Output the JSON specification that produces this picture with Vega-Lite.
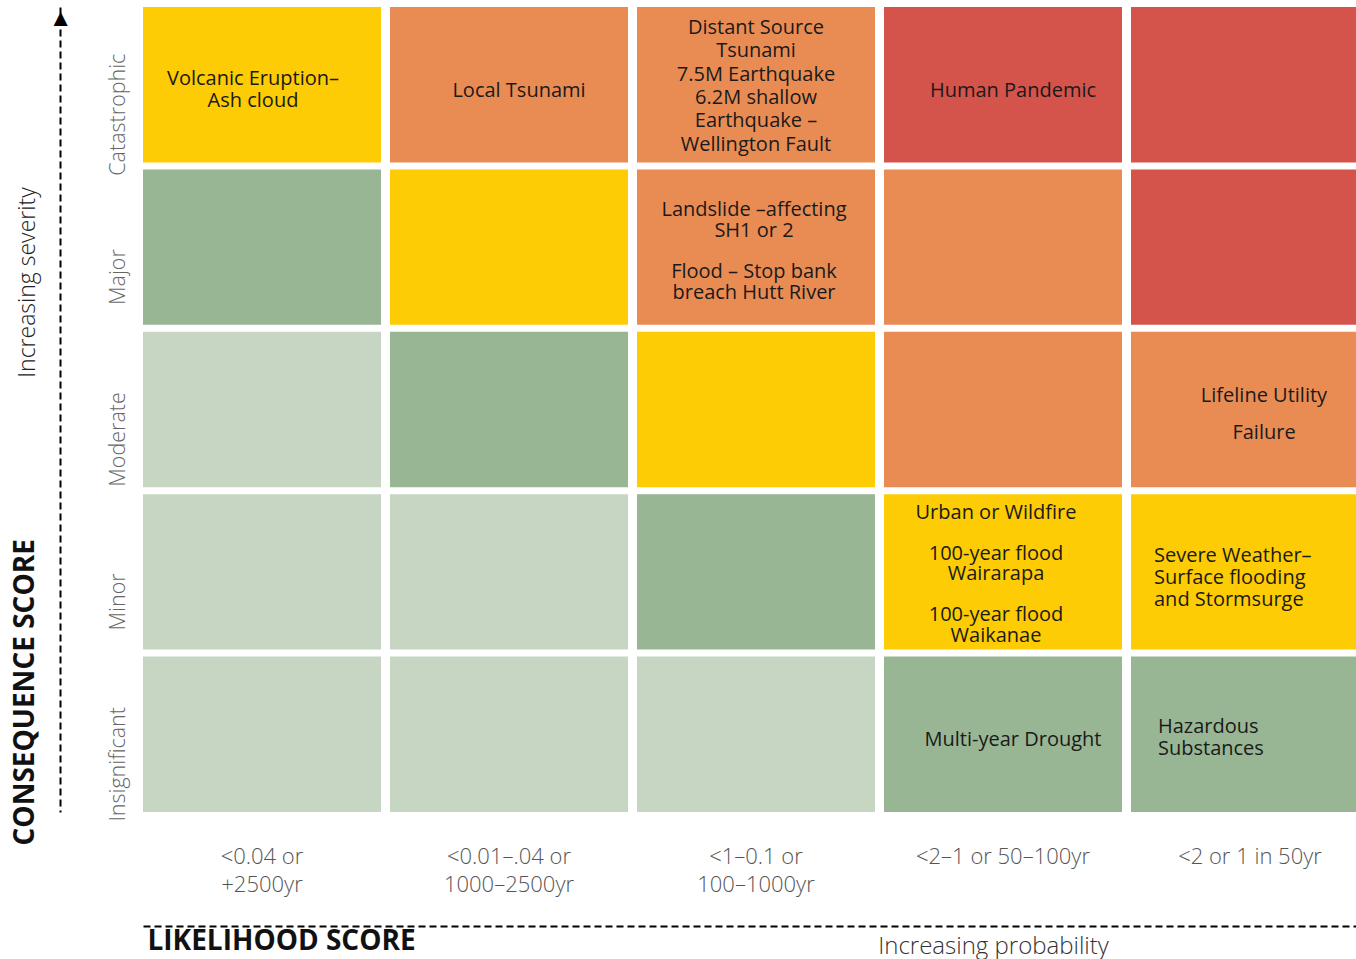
{
  "$schema": "https://vega.github.io/schema/vega-lite/v6.json",
  "width": 1213,
  "height": 805,
  "autosize": "none",
  "padding": {"left": 143, "top": 7, "right": 0, "bottom": 147},
  "background": "white",
  "config": {"view": {"stroke": null}, "font": "Open Sans", "text": {"lineBreak": "\n", "font": "Open Sans", "fontSize": 20, "color": "#1a1a1a", "baseline": "middle"}},
  "data": {"values": [
    {"likelihood": "<0.04 or\n+2500yr", "consequence": "Catastrophic", "level": "Medium", "label": "Volcanic Eruption–\nAsh cloud", "group": "volc"},
    {"likelihood": "<0.01–.04 or\n1000–2500yr", "consequence": "Catastrophic", "level": "High", "label": "Local Tsunami", "group": "s1"},
    {"likelihood": "<1–0.1 or\n100–1000yr", "consequence": "Catastrophic", "level": "High", "label": "Distant Source\nTsunami\n7.5M Earthquake\n6.2M shallow\nEarthquake –\nWellington Fault", "group": "dist"},
    {"likelihood": "<2–1 or  50–100yr", "consequence": "Catastrophic", "level": "Extreme", "label": "Human Pandemic", "group": "s1"},
    {"likelihood": "<2 or 1 in 50yr", "consequence": "Catastrophic", "level": "Extreme", "label": "", "group": ""},
    {"likelihood": "<0.04 or\n+2500yr", "consequence": "Major", "level": "Low", "label": "", "group": ""},
    {"likelihood": "<0.01–.04 or\n1000–2500yr", "consequence": "Major", "level": "Medium", "label": "", "group": ""},
    {"likelihood": "<1–0.1 or\n100–1000yr", "consequence": "Major", "level": "High", "label": "Landslide –affecting\nSH1 or 2\n\u200b\nFlood – Stop bank\nbreach Hutt River", "group": "land"},
    {"likelihood": "<2–1 or  50–100yr", "consequence": "Major", "level": "High", "label": "", "group": ""},
    {"likelihood": "<2 or 1 in 50yr", "consequence": "Major", "level": "Extreme", "label": "", "group": ""},
    {"likelihood": "<0.04 or\n+2500yr", "consequence": "Moderate", "level": "Very low", "label": "", "group": ""},
    {"likelihood": "<0.01–.04 or\n1000–2500yr", "consequence": "Moderate", "level": "Low", "label": "", "group": ""},
    {"likelihood": "<1–0.1 or\n100–1000yr", "consequence": "Moderate", "level": "Medium", "label": "", "group": ""},
    {"likelihood": "<2–1 or  50–100yr", "consequence": "Moderate", "level": "High", "label": "", "group": ""},
    {"likelihood": "<2 or 1 in 50yr", "consequence": "Moderate", "level": "High", "label": "Lifeline Utility\n\u200b\nFailure", "group": "life"},
    {"likelihood": "<0.04 or\n+2500yr", "consequence": "Minor", "level": "Very low", "label": "", "group": ""},
    {"likelihood": "<0.01–.04 or\n1000–2500yr", "consequence": "Minor", "level": "Very low", "label": "", "group": ""},
    {"likelihood": "<1–0.1 or\n100–1000yr", "consequence": "Minor", "level": "Low", "label": "", "group": ""},
    {"likelihood": "<2–1 or  50–100yr", "consequence": "Minor", "level": "Medium", "label": "Urban or Wildfire\n\u200b\n100-year flood\nWairarapa\n\u200b\n100-year flood\nWaikanae", "group": "urban"},
    {"likelihood": "<2 or 1 in 50yr", "consequence": "Minor", "level": "Medium", "label": "Severe Weather–\nSurface flooding\nand Stormsurge", "group": "sev"},
    {"likelihood": "<0.04 or\n+2500yr", "consequence": "Insignificant", "level": "Very low", "label": "", "group": ""},
    {"likelihood": "<0.01–.04 or\n1000–2500yr", "consequence": "Insignificant", "level": "Very low", "label": "", "group": ""},
    {"likelihood": "<1–0.1 or\n100–1000yr", "consequence": "Insignificant", "level": "Very low", "label": "", "group": ""},
    {"likelihood": "<2–1 or  50–100yr", "consequence": "Insignificant", "level": "Low", "label": "Multi-year Drought", "group": "s1"},
    {"likelihood": "<2 or 1 in 50yr", "consequence": "Insignificant", "level": "Low", "label": "Hazardous\nSubstances", "group": "haz"}
  ]},
  "resolve": {"axis": {"x": "independent", "y": "independent"}},
  "layer": [
    {
      "mark": {"type": "rect"},
      "encoding": {
        "x": {"field": "likelihood", "type": "ordinal",
          "scale": {"domain": ["<0.04 or\n+2500yr", "<0.01–.04 or\n1000–2500yr", "<1–0.1 or\n100–1000yr", "<2–1 or  50–100yr", "<2 or 1 in 50yr"], "range": [0, 1226], "paddingInner": 0.0364, "paddingOuter": 0},
          "axis": {"orient": "bottom", "title": null, "domain": false, "ticks": false, "labelAngle": 0, "labelPadding": 34, "labelFontSize": 22, "labelFontWeight": 300, "labelColor": "#555555", "labelLineHeight": 28, "labelBaseline": "top", "labelExpr": "split(datum.label, '\\n')"}},
        "y": {"field": "consequence", "type": "ordinal",
          "scale": {"domain": ["Catastrophic", "Major", "Moderate", "Minor", "Insignificant"], "paddingInner": 0.043, "paddingOuter": 0},
          "axis": {"orient": "left", "title": null, "domain": false, "ticks": false, "labelAngle": 270, "labelAlign": "center", "labelBaseline": "bottom", "labelPadding": 14, "labelOffset": 30, "labelFontSize": 21.5, "labelFontWeight": 300, "labelColor": "#666666"}},
        "color": {"field": "level", "type": "nominal", "legend": null,
          "scale": {"domain": ["Very low", "Low", "Medium", "High", "Extreme"], "range": ["#C6D6C3", "#98B594", "#FDCC04", "#E98C54", "#D4544B"]}}
      }
    },
    {
      "transform": [{"filter": "datum.group == 's1'"}],
      "mark": {"type": "text", "align": "center", "dx": 10, "dy": 6},
      "encoding": {
        "x": {"field": "likelihood", "type": "ordinal",
          "scale": {"domain": ["<0.04 or\n+2500yr", "<0.01–.04 or\n1000–2500yr", "<1–0.1 or\n100–1000yr", "<2–1 or  50–100yr", "<2 or 1 in 50yr"], "range": [0, 1226], "paddingInner": 0.0364, "paddingOuter": 0},
          "axis": {"orient": "bottom", "offset": 114, "labels": false, "ticks": false, "domain": true, "domainColor": "#000000", "domainWidth": 2, "domainDash": [7, 4], "title": "LIKELIHOOD SCORE", "titleFontSize": 28, "titleFontWeight": "bold", "titleColor": "#111111", "titleX": 4, "titleY": 15, "titleAlign": "left", "titleBaseline": "middle", "titleAnchor": null}},
        "y": {"field": "consequence", "type": "ordinal",
          "scale": {"domain": ["Catastrophic", "Major", "Moderate", "Minor", "Insignificant"], "paddingInner": 0.043, "paddingOuter": 0},
          "axis": {"orient": "left", "offset": 83, "labels": false, "ticks": false, "domain": true, "domainColor": "#000000", "domainWidth": 2, "domainDash": [7, 4], "title": "CONSEQUENCE SCORE", "titleFontSize": 28, "titleFontWeight": "bold", "titleColor": "#111111", "titleAngle": 270, "titleX": -35, "titleY": 838, "titleAlign": "left", "titleBaseline": "middle", "titleAnchor": null}},
        "text": {"field": "label"}
      }
    },
    {
      "transform": [{"filter": "datum.group == 'volc'"}],
      "mark": {"type": "text", "align": "center", "dx": -9, "dy": -6, "lineHeight": 22},
      "encoding": {
        "x": {"field": "likelihood", "type": "ordinal",
          "scale": {"domain": ["<0.04 or\n+2500yr", "<0.01–.04 or\n1000–2500yr", "<1–0.1 or\n100–1000yr", "<2–1 or  50–100yr", "<2 or 1 in 50yr"], "range": [0, 1226], "paddingInner": 0.0364, "paddingOuter": 0},
          "axis": {"orient": "bottom", "labels": false, "ticks": false, "domain": false, "title": "Increasing probability", "titleFontSize": 24, "titleFontWeight": 300, "titleColor": "#333333", "titleX": 850, "titleY": 134, "titleAlign": "center", "titleBaseline": "middle", "titleAnchor": null}},
        "y": {"field": "consequence", "type": "ordinal",
          "scale": {"domain": ["Catastrophic", "Major", "Moderate", "Minor", "Insignificant"], "paddingInner": 0.043, "paddingOuter": 0},
          "axis": {"orient": "left", "labels": false, "ticks": false, "domain": false, "title": "Increasing severity", "titleFontSize": 23, "titleFontWeight": 300, "titleColor": "#222222", "titleAngle": 270, "titleX": -116, "titleY": 275, "titleAlign": "center", "titleBaseline": "middle", "titleAnchor": null}},
        "text": {"field": "label"}
      }
    },
    {
      "transform": [{"filter": "datum.group == 'haz'"}],
      "mark": {"type": "text", "align": "left", "dx": -92, "dy": -7, "lineHeight": 22},
      "encoding": {
        "x": {"field": "likelihood", "type": "ordinal",
          "scale": {"domain": ["<0.04 or\n+2500yr", "<0.01–.04 or\n1000–2500yr", "<1–0.1 or\n100–1000yr", "<2–1 or  50–100yr", "<2 or 1 in 50yr"], "range": [0, 1226], "paddingInner": 0.0364, "paddingOuter": 0},
          "axis": null},
        "y": {"field": "consequence", "type": "ordinal",
          "scale": {"domain": ["Catastrophic", "Major", "Moderate", "Minor", "Insignificant"], "paddingInner": 0.043, "paddingOuter": 0},
          "axis": {"orient": "left", "labels": false, "ticks": false, "domain": false, "title": "▲", "titleFontSize": 24, "titleColor": "#000000", "titleAngle": 0, "titleX": -83, "titleY": 11, "titleAlign": "center", "titleBaseline": "middle", "titleAnchor": null}},
        "text": {"field": "label"}
      }
    },
    {
      "transform": [{"filter": "datum.group == 'sev'"}],
      "mark": {"type": "text", "align": "left", "dx": -96, "dy": -16, "lineHeight": 22},
      "encoding": {
        "x": {"field": "likelihood", "type": "ordinal",
          "scale": {"domain": ["<0.04 or\n+2500yr", "<0.01–.04 or\n1000–2500yr", "<1–0.1 or\n100–1000yr", "<2–1 or  50–100yr", "<2 or 1 in 50yr"], "range": [0, 1226], "paddingInner": 0.0364, "paddingOuter": 0},
          "axis": null},
        "y": {"field": "consequence", "type": "ordinal",
          "scale": {"domain": ["Catastrophic", "Major", "Moderate", "Minor", "Insignificant"], "paddingInner": 0.043, "paddingOuter": 0},
          "axis": null},
        "text": {"field": "label"}
      }
    },
    {
      "transform": [{"filter": "datum.group == 'life'"}],
      "mark": {"type": "text", "align": "center", "dx": 14, "dy": -14, "lineHeight": 18.5},
      "encoding": {
        "x": {"field": "likelihood", "type": "ordinal",
          "scale": {"domain": ["<0.04 or\n+2500yr", "<0.01–.04 or\n1000–2500yr", "<1–0.1 or\n100–1000yr", "<2–1 or  50–100yr", "<2 or 1 in 50yr"], "range": [0, 1226], "paddingInner": 0.0364, "paddingOuter": 0},
          "axis": null},
        "y": {"field": "consequence", "type": "ordinal",
          "scale": {"domain": ["Catastrophic", "Major", "Moderate", "Minor", "Insignificant"], "paddingInner": 0.043, "paddingOuter": 0},
          "axis": null},
        "text": {"field": "label"}
      }
    },
    {
      "transform": [{"filter": "datum.group == 'land'"}],
      "mark": {"type": "text", "align": "center", "dx": -2, "dy": -37, "lineHeight": 20.75},
      "encoding": {
        "x": {"field": "likelihood", "type": "ordinal",
          "scale": {"domain": ["<0.04 or\n+2500yr", "<0.01–.04 or\n1000–2500yr", "<1–0.1 or\n100–1000yr", "<2–1 or  50–100yr", "<2 or 1 in 50yr"], "range": [0, 1226], "paddingInner": 0.0364, "paddingOuter": 0},
          "axis": null},
        "y": {"field": "consequence", "type": "ordinal",
          "scale": {"domain": ["Catastrophic", "Major", "Moderate", "Minor", "Insignificant"], "paddingInner": 0.043, "paddingOuter": 0},
          "axis": null},
        "text": {"field": "label"}
      }
    },
    {
      "transform": [{"filter": "datum.group == 'dist'"}],
      "mark": {"type": "text", "align": "center", "dx": 0, "dy": -57, "lineHeight": 23.4},
      "encoding": {
        "x": {"field": "likelihood", "type": "ordinal",
          "scale": {"domain": ["<0.04 or\n+2500yr", "<0.01–.04 or\n1000–2500yr", "<1–0.1 or\n100–1000yr", "<2–1 or  50–100yr", "<2 or 1 in 50yr"], "range": [0, 1226], "paddingInner": 0.0364, "paddingOuter": 0},
          "axis": null},
        "y": {"field": "consequence", "type": "ordinal",
          "scale": {"domain": ["Catastrophic", "Major", "Moderate", "Minor", "Insignificant"], "paddingInner": 0.043, "paddingOuter": 0},
          "axis": null},
        "text": {"field": "label"}
      }
    },
    {
      "transform": [{"filter": "datum.group == 'urban'"}],
      "mark": {"type": "text", "align": "center", "dx": -7, "dy": -59, "lineHeight": 20.5},
      "encoding": {
        "x": {"field": "likelihood", "type": "ordinal",
          "scale": {"domain": ["<0.04 or\n+2500yr", "<0.01–.04 or\n1000–2500yr", "<1–0.1 or\n100–1000yr", "<2–1 or  50–100yr", "<2 or 1 in 50yr"], "range": [0, 1226], "paddingInner": 0.0364, "paddingOuter": 0},
          "axis": null},
        "y": {"field": "consequence", "type": "ordinal",
          "scale": {"domain": ["Catastrophic", "Major", "Moderate", "Minor", "Insignificant"], "paddingInner": 0.043, "paddingOuter": 0},
          "axis": null},
        "text": {"field": "label"}
      }
    }
  ]
}
